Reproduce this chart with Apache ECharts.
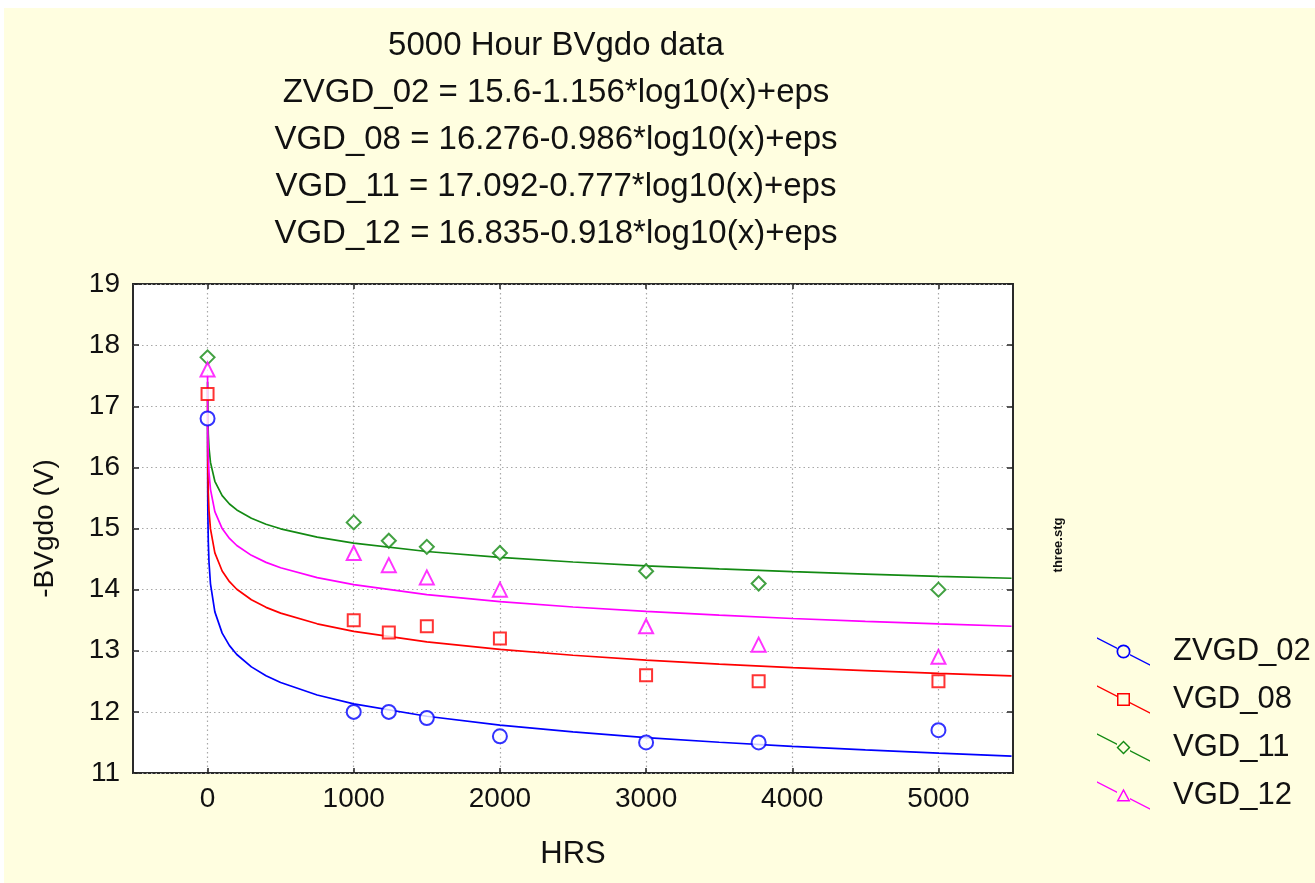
<!DOCTYPE html>
<html>
<head>
<meta charset="utf-8">
<script src="https://cdn.jsdelivr.net/npm/echarts@6/dist/echarts.min.js"></script>
<style>
  html, body { margin: 0; padding: 0; background: #ffffff; width: 1315px; height: 883px; overflow: hidden; }
  #chart { position: absolute; left: 4px; top: 8px; width: 1311px; height: 875px; }
</style>
</head>
<body>
<div id="chart"></div>
<script>
// ---- data ----
const titleLines = [
  '5000 Hour BVgdo data',
  'ZVGD_02 = 15.6-1.156*log10(x)+eps',
  'VGD_08 = 16.276-0.986*log10(x)+eps',
  'VGD_11 = 17.092-0.777*log10(x)+eps',
  'VGD_12 = 16.835-0.918*log10(x)+eps'
];
const seriesNames = ['ZVGD_02', 'VGD_08', 'VGD_11', 'VGD_12'];
const xTicks = [0, 1000, 2000, 3000, 4000, 5000];

// measured points
const hours = [0, 1000, 1240, 1500, 2000, 3000, 3770, 5000];
const zvgd02 = [16.8, 12.0, 12.0, 11.9, 11.6, 11.5, 11.5, 11.7];
const vgd08  = [17.2, 13.5, 13.3, 13.4, 13.2, 12.6, 12.5, 12.5];
const vgd11  = [17.8, 15.1, 14.8, 14.7, 14.6, 14.3, 14.1, 14.0];
const vgd12  = [17.6, 14.6, 14.4, 14.2, 14.0, 13.4, 13.1, 12.9];

// fitted curves (tabulated)
const fitHours = [0.1, 1, 2, 5, 10, 20, 50, 100, 150, 200, 300, 400, 500, 750, 1000, 1500, 2000, 2500, 3000, 3500, 4000, 4500, 5000, 5500];
const fit02 = [16.7, 15.600, 15.252, 14.792, 14.444, 14.096, 13.636, 13.288, 13.084, 12.939, 12.736, 12.592, 12.480, 12.276, 12.132, 11.928, 11.784, 11.672, 11.580, 11.503, 11.436, 11.377, 11.324, 11.276];
const fit08 = [17.3, 16.276, 15.979, 15.587, 15.290, 14.993, 14.601, 14.304, 14.130, 14.006, 13.834, 13.710, 13.615, 13.441, 13.318, 13.144, 13.021, 12.926, 12.848, 12.782, 12.724, 12.674, 12.629, 12.588];
const fit11 = [17.4, 17.092, 16.858, 16.549, 16.315, 16.081, 15.772, 15.538, 15.401, 15.304, 15.167, 15.070, 14.995, 14.858, 14.761, 14.624, 14.527, 14.452, 14.390, 14.338, 14.293, 14.254, 14.218, 14.186];
const fit12 = [17.5, 16.835, 16.559, 16.193, 15.917, 15.641, 15.275, 14.999, 14.837, 14.722, 14.561, 14.446, 14.357, 14.196, 14.081, 13.919, 13.805, 13.716, 13.643, 13.582, 13.528, 13.481, 13.439, 13.401];

// ---- styling ----
const colors = ['#0000ff', '#ff0000', '#138a13', '#ff00ff'];
const symbols = ['emptyCircle', 'emptyRect', 'emptyDiamond', 'emptyTriangle'];
const symbolSizes = [14, 12, 14, 14];
const pointSets = [zvgd02, vgd08, vgd11, vgd12];
const fitSets = [fit02, fit08, fit11, fit12];
const FONT = "'Liberation Sans', Arial, sans-serif";

// legend icons: diagonal line with hollow marker in the middle (53 x 28.4 box)
const band = 'M0 0 L20 10.19 L20 11.59 L0 1.4 Z M33 16.81 L53 27 L53 28.4 L33 18.21 Z ';
const legendIcons = [
  'path://' + band + 'M19.5 14.2 A7 7 0 1 1 33.5 14.2 A7 7 0 1 1 19.5 14.2 Z M21.2 14.2 A5.3 5.3 0 1 0 31.8 14.2 A5.3 5.3 0 1 0 21.2 14.2 Z',
  'path://' + band + 'M20 7.7 L33 7.7 L33 20.7 L20 20.7 Z M21.5 9.2 L21.5 19.2 L31.5 19.2 L31.5 9.2 Z',
  'path://' + band + 'M26.5 7.2 L33.5 14.2 L26.5 21.2 L19.5 14.2 Z M26.5 9.2 L21.5 14.2 L26.5 19.2 L31.5 14.2 Z',
  'path://' + band + 'M26.5 7.2 L33.5 20.2 L19.5 20.2 Z M26.5 10.1 L22.0 18.8 L31.0 18.8 Z'
];

const zip = (xs, ys) => xs.map((x, i) => [x, ys[i]]);

const series = [];
seriesNames.forEach((name, i) => {
  series.push({
    name: name,
    type: 'line',
    xAxisIndex: 0, yAxisIndex: 0,
    data: zip(fitHours, fitSets[i]),
    showSymbol: false,
    symbol: symbols[i],
    symbolSize: symbolSizes[i],
    lineStyle: { color: colors[i], width: 1.7 },
    itemStyle: { color: colors[i] },
    z: 2,
    silent: true,
    animation: false
  });
});
seriesNames.forEach((name, i) => {
  series.push({
    name: name,
    type: 'scatter',
    xAxisIndex: 0, yAxisIndex: 0,
    data: zip(hours, pointSets[i]),
    symbol: symbols[i],
    symbolSize: symbolSizes[i],
    itemStyle: { color: colors[i], borderWidth: 2 },
    z: 3,
    animation: false
  });
});

const chart = echarts.init(document.getElementById('chart'));
chart.setOption({
  backgroundColor: '#fffee0',
  animation: false,
  color: colors,
  title: {
    text: titleLines.join('\n'),
    left: 552,
    top: 14,
    padding: 0,
    textAlign: 'center',
    textStyle: { fontFamily: FONT, fontSize: 33, fontWeight: 'normal', color: '#111', lineHeight: 47 }
  },
  grid: {
    left: 129, top: 276, width: 880, height: 489,
    show: true, backgroundColor: '#ffffff', borderColor: '#2a2a2a', borderWidth: 2,
    containLabel: false
  },
  legend: {
    orient: 'vertical',
    left: 1088,
    top: 623,
    itemWidth: 53,
    itemHeight: 28.4,
    itemGap: 17,
    itemStyle: { borderWidth: 0 },
    data: seriesNames.map((n, i) => ({ name: n, icon: legendIcons[i] })),
    textStyle: { fontFamily: FONT, fontSize: 31, color: '#111', padding: [0, 0, 0, 18] }
  },
  xAxis: [
    {
      type: 'value', min: -510, max: 5510, position: 'bottom',
      name: 'HRS', nameLocation: 'middle', nameGap: 66,
      nameTextStyle: { fontFamily: FONT, fontSize: 31, color: '#111' },
      axisLine: { show: false, onZero: false },
      axisTick: { show: true, inside: true, length: 5, customValues: xTicks, lineStyle: { color: '#222', width: 1.5 } },
      axisLabel: { customValues: xTicks, formatter: v => String(v), fontFamily: FONT, fontSize: 28, color: '#111', margin: 12 },
      splitLine: { show: true, lineStyle: { color: '#a8a8a8', type: [1.5, 3], width: 1.2 } }
    },
    {
      type: 'value', min: -510, max: 5510, position: 'top',
      axisLine: { show: false, onZero: false },
      axisTick: { show: true, inside: true, length: 5, customValues: xTicks, lineStyle: { color: '#222', width: 1.5 } },
      axisLabel: { show: false },
      splitLine: { show: false }
    }
  ],
  yAxis: [
    {
      type: 'value', min: 11, max: 19, interval: 1, position: 'left',
      name: '-BVgdo (V)', nameLocation: 'middle', nameGap: 74,
      nameTextStyle: { fontFamily: FONT, fontSize: 28, color: '#111' },
      axisLine: { show: false, onZero: false },
      axisTick: { show: true, inside: true, length: 6, lineStyle: { color: '#222', width: 1.5 } },
      axisLabel: { fontFamily: FONT, fontSize: 28, color: '#111', margin: 13 },
      splitLine: { show: true, lineStyle: { color: '#a8a8a8', type: [1.5, 3], width: 1.2 } }
    },
    {
      type: 'value', min: 11, max: 19, interval: 1, position: 'right',
      axisLine: { show: false, onZero: false },
      axisTick: { show: true, inside: true, length: 6, lineStyle: { color: '#222', width: 1.5 } },
      axisLabel: { show: false },
      splitLine: { show: false }
    }
  ],
  graphic: [
    {
      type: 'text',
      x: 1054, y: 537,
      rotation: Math.PI / 2,
      style: { text: 'three.stg', fontFamily: FONT, fontSize: 13, fontWeight: 'bold', fill: '#111', align: 'center', verticalAlign: 'middle' }
    }
  ],
  series: series
});
</script>
</body>
</html>
